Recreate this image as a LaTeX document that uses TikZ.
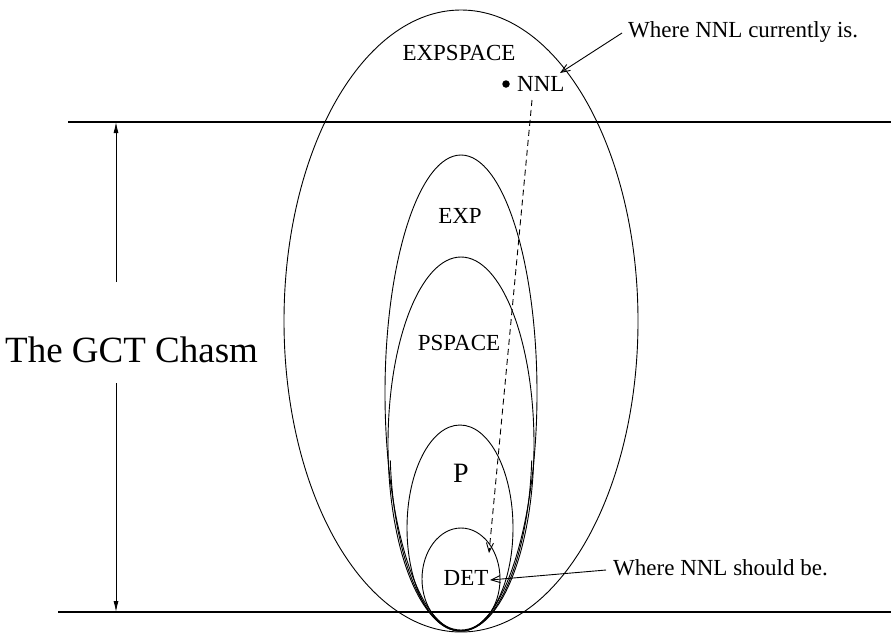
\documentclass[tikz,border=0pt]{standalone}
\usepackage{fontspec}
\setmainfont{Liberation Serif}
\usetikzlibrary{arrows.meta}
\begin{document}
\begin{tikzpicture}[x=1pt,y=-1pt,
  lbl/.style={inner sep=0pt, anchor=base, font=\fontsize{23}{27}\selectfont},
  setline/.style={line width=0.9pt},
  bar/.style={line width=2pt},
  callout/.style={line width=0.9pt, -{Straight Barb[length=9pt,width=7pt]}},
  dimarrow/.style={line width=0.9pt, -{Latex[length=11pt,width=5pt]}},
]
\useasboundingbox (0,0) rectangle (891,633);
% horizontal bars
\coordinate (tl) at (68,122); \coordinate (tr) at (891,122);
\coordinate (bl) at (58,612); \coordinate (br) at (891,612);
\draw[bar] (tl) -- (tr);
\draw[bar] (bl) -- (br);
% sets
\draw[setline] (461,321) ellipse [x radius=177pt, y radius=311pt];
\draw[setline] (461,393) ellipse [x radius=76pt, y radius=238pt];
\draw[setline] (461,444) ellipse [x radius=73pt, y radius=187pt];
\coordinate (c3) at (461,444);
\draw[setline] (c3) ++(185:71pt and 187pt) arc[start angle=185, end angle=355, x radius=71pt, y radius=187pt];
\draw[setline] (460,528) ellipse [x radius=53pt, y radius=103pt];
\draw[setline] (461,579) ellipse [x radius=39pt, y radius=51pt];
% labels
\node[lbl] (expspace) at (459,60) {EXPSPACE};
\node[lbl] (exp) at (460,223) {EXP};
\node[lbl] (pspace) at (459,350) {PSPACE};
\node[lbl, font=\fontsize{28}{32}\selectfont] (p) at (461,482) {P};
\node[lbl] (det) at (466,585) {DET};
\node[lbl, anchor=base west] (nnl) at (517,91) {NNL};
\node[circle, fill, inner sep=0pt, minimum size=7.5pt] (dot) at (506,84) {};
\node[lbl, anchor=base west] (wnc) at (628,37) {Where NNL currently is.};
\node[lbl, anchor=base west] (wns) at (613,575) {Where NNL should be.};
\node[lbl, anchor=base west, font=\fontsize{37}{42}\selectfont] (chasm) at (5,362) {The GCT Chasm};
% callouts
\coordinate (nnltip) at (560,73);
\coordinate (wncstart) at (622,33);
\draw[callout] (wncstart) -- (nnltip);
\coordinate (dettip) at (490,580);
\coordinate (wnsstart) at (606,570);
\draw[callout] (wnsstart) -- (dettip);
\coordinate (dstart) at (532,100);
\coordinate (dend) at (489,553);
\draw[callout, dash pattern=on 6pt off 4pt] (dstart) -- (dend);
% dimension arrow
\coordinate (vup) at (116,282);
\coordinate (vtop) at (116,122);
\coordinate (vdown) at (116,383);
\coordinate (vbot) at (116,612);
\draw[dimarrow] (vup) -- (vtop);
\draw[dimarrow] (vdown) -- (vbot);
\end{tikzpicture}
\end{document}
